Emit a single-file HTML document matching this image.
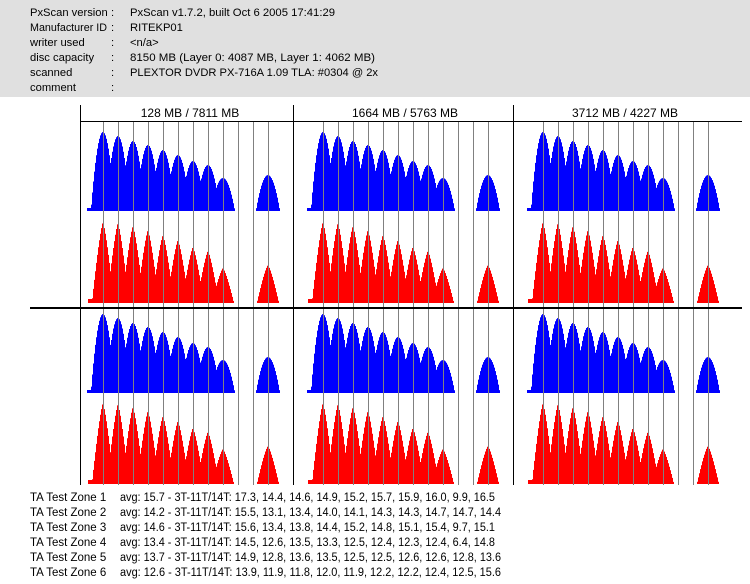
<!DOCTYPE html>
<html><head><meta charset="utf-8"><style>
html,body{margin:0;padding:0;background:#fff;width:750px;height:584px;overflow:hidden}
svg{display:block}
text{font-family:"Liberation Sans","Noto Sans CJK JP",sans-serif;font-size:12px;fill:#000}
.h text{font-size:11.2px}
.b text{font-size:11.5px}
</style></head><body>
<svg id="s" width="750" height="584" xmlns="http://www.w3.org/2000/svg">
<rect x="0" y="0" width="750" height="97" fill="#e0e0e0"/>
<g class="h">
<text x="30" y="16">PxScan version</text><text x="111" y="16">:</text><text x="130" y="16" textLength="205" lengthAdjust="spacingAndGlyphs">PxScan v1.7.2, built Oct  6 2005 17:41:29</text>
<text x="30" y="31" textLength="77" lengthAdjust="spacingAndGlyphs">Manufacturer ID</text><text x="111" y="31">:</text><text x="130" y="31">RITEKP01</text>
<text x="30" y="46">writer used</text><text x="111" y="46">:</text><text x="130" y="46">&lt;n/a&gt;</text>
<text x="30" y="61">disc capacity</text><text x="111" y="61">:</text><text x="130" y="61" textLength="245" lengthAdjust="spacingAndGlyphs">8150 MB (Layer 0: 4087 MB,  Layer 1: 4062 MB)</text>
<text x="30" y="76">scanned</text><text x="111" y="76">:</text><text x="130" y="76" textLength="248" lengthAdjust="spacingAndGlyphs">PLEXTOR DVDR PX-716A 1.09 TLA: #0304 @ 2x</text>
<text x="30" y="91">comment</text><text x="111" y="91">:</text>
</g>
<g text-anchor="middle">
<text x="190" y="117">128 MB / 7811 MB</text>
<text x="405" y="117">1664 MB / 5763 MB</text>
<text x="625" y="117">3712 MB / 4227 MB</text>
</g>
<g id="fills"></g>
<g id="grid"></g>
<line x1="80" y1="121.5" x2="742" y2="121.5" stroke="#000"/>
<line x1="30" y1="308" x2="742" y2="308" stroke="#000" stroke-width="2"/>
<line x1="80.5" y1="105" x2="80.5" y2="485" stroke="#000"/>
<line x1="293.5" y1="105" x2="293.5" y2="485" stroke="#000"/>
<line x1="513.5" y1="105" x2="513.5" y2="485" stroke="#000"/>
<g class="b">
<text x="30" y="501">TA Test Zone 1</text><text x="120" y="501" textLength="375" lengthAdjust="spacingAndGlyphs">avg: 15.7 - 3T-11T/14T: 17.3, 14.4, 14.6, 14.9, 15.2, 15.7, 15.9, 16.0, 9.9, 16.5</text>
<text x="30" y="516">TA Test Zone 2</text><text x="120" y="516" textLength="381" lengthAdjust="spacingAndGlyphs">avg: 14.2 - 3T-11T/14T: 15.5, 13.1, 13.4, 14.0, 14.1, 14.3, 14.3, 14.7, 14.7, 14.4</text>
<text x="30" y="531">TA Test Zone 3</text><text x="120" y="531" textLength="375" lengthAdjust="spacingAndGlyphs">avg: 14.6 - 3T-11T/14T: 15.6, 13.4, 13.8, 14.4, 15.2, 14.8, 15.1, 15.4, 9.7, 15.1</text>
<text x="30" y="546">TA Test Zone 4</text><text x="120" y="546" textLength="375" lengthAdjust="spacingAndGlyphs">avg: 13.4 - 3T-11T/14T: 14.5, 12.6, 13.5, 13.3, 12.5, 12.4, 12.3, 12.4, 6.4, 14.8</text>
<text x="30" y="561">TA Test Zone 5</text><text x="120" y="561" textLength="381" lengthAdjust="spacingAndGlyphs">avg: 13.7 - 3T-11T/14T: 14.9, 12.8, 13.6, 13.5, 12.5, 12.5, 12.6, 12.6, 12.8, 13.6</text>
<text x="30" y="576">TA Test Zone 6</text><text x="120" y="576" textLength="381" lengthAdjust="spacingAndGlyphs">avg: 12.6 - 3T-11T/14T: 13.9, 11.9, 11.8, 12.0, 11.9, 12.2, 12.2, 12.4, 12.5, 15.6</text>
</g>
</svg>
<script>
(function(){
var NS="http://www.w3.org/2000/svg";
var fills=document.getElementById("fills"),grid=document.getElementById("grid");
var starts=[103,323,543];
var idx=[0,1,2,3,4,5,6,7,8,11];
var blueH=[79,75,70,66,61,56,50,46,33,36];
var redH=[81,80,77,73,68,63,56,52,35,38];
var rows=[{b:211,col:"#0000ff",h:blueH,blue:1},{b:303,col:"#ff0000",h:redH,blue:0},
          {b:393,col:"#0000ff",h:blueH,blue:1},{b:484,col:"#ff0000",h:redH,blue:0}];
starts.forEach(function(x0,p){
  for(var i=0;i<12;i++){
    var l=document.createElementNS(NS,"line");
    var x=x0+i*15+0.5;
    l.setAttribute("x1",x);l.setAttribute("x2",x);l.setAttribute("y1",122);l.setAttribute("y2",485);
    l.setAttribute("stroke","#808080");grid.appendChild(l);
  }
  rows.forEach(function(r){
    var d="";
    for(var x=x0-20;x<x0+185;x++){
      var v=0;
      for(var j=0;j<10;j++){
        var cx=x0+idx[j]*15, dx=Math.abs(x+0.5-cx);
        var hh=r.h[j];
        var g=0;
        if(r.blue){ var w=12; if(dx<w) g=hh*(1-Math.pow(dx/w,2)); }
        else { var w=11; if(dx<w) g=hh*(1-Math.pow(dx/w,1.3)); }
        v=Math.max(v,g);
      }
      if(r.blue && x>=x0-16 && x<x0+118) v=Math.max(v,3);
      if(!r.blue && x>=x0-15 && x<x0+115) v=Math.max(v,4);
      if(v<2) continue;
      d+="M"+x+" "+r.b+"h1v"+(-v).toFixed(1)+"h-1z";
    }
    var pa=document.createElementNS(NS,"path");
    pa.setAttribute("d",d);pa.setAttribute("fill",r.col);
    fills.appendChild(pa);
  });
});
})();
</script>
</body></html>
